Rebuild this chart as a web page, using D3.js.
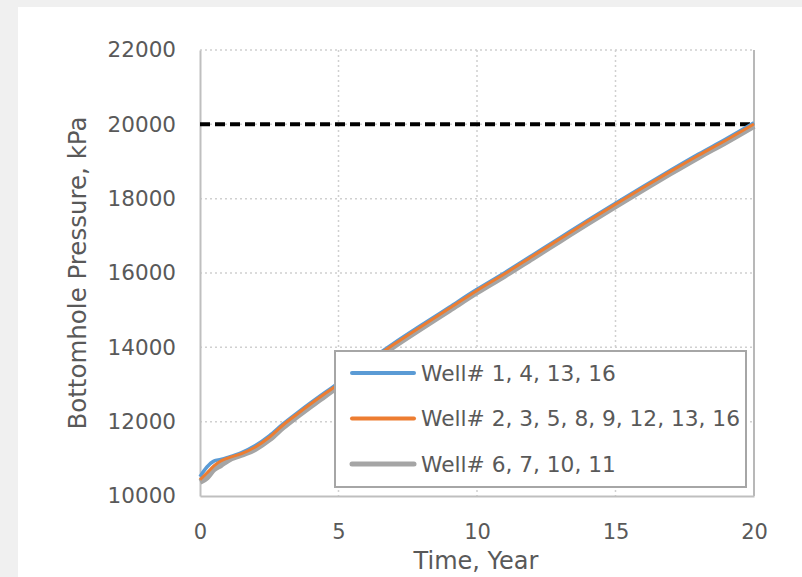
<!DOCTYPE html>
<html>
<head>
<meta charset="utf-8">
<script src="https://cdn.jsdelivr.net/npm/d3@7"></script>
<style>
  body { margin: 0; background: #f0f0f0; }
  #chart { position: absolute; left: 0; top: 0; }
</style>
</head>
<body>
<div id="chart"></div>
<script>
// time in years
var years = [0, 0.25, 0.5, 0.75, 1, 1.5, 2, 2.5, 3, 3.5, 4, 4.5, 5, 6, 7, 8, 9, 10, 11, 12, 13, 14, 15, 16, 17, 18, 19, 20];
// bottomhole pressure, kPa
var wellA = [10520, 10780, 10940, 10985, 11040, 11170, 11360, 11620, 11940, 12230, 12510, 12780, 13040, 13590, 14110, 14600, 15080, 15560, 16010, 16480, 16950, 17420, 17880, 18330, 18770, 19200, 19610, 20040];
var wellB = [10440, 10620, 10810, 10940, 11020, 11140, 11320, 11580, 11910, 12200, 12480, 12750, 13010, 13560, 14080, 14570, 15050, 15530, 15980, 16450, 16920, 17390, 17850, 18300, 18740, 19170, 19580, 20010];
var wellC = [10380, 10500, 10720, 10830, 10960, 11110, 11270, 11520, 11850, 12140, 12420, 12690, 12960, 13510, 14030, 14520, 15000, 15480, 15930, 16400, 16870, 17340, 17800, 18250, 18690, 19120, 19530, 19960];
var limitYears = [0, 20];
var limitValues = [20000, 20000];
var seriesNames = ["Well# 1, 4, 13, 16", "Well# 2, 3, 5, 8, 9, 12, 13, 16", "Well# 6, 7, 10, 11"];
var xTicks = [0, 5, 10, 15, 20];
var yTicks = [10000, 12000, 14000, 16000, 18000, 20000, 22000];

var W = 802, H = 577;
var margin = {top: 50, right: 48, bottom: 81, left: 200},
  width = W - margin.left - margin.right,
  height = H - margin.top - margin.bottom;

var svg = d3.select("#chart")
  .append("svg")
  .attr("width", W)
  .attr("height", H);

// white panel
svg.append("rect")
  .attr("x", 18).attr("y", 7)
  .attr("width", W - 18).attr("height", H - 7)
  .style("fill", "white");

var g = svg.append("g")
  .attr("transform", "translate(" + margin.left + "," + margin.top + ")");

var x = d3.scaleLinear().domain([0, 20]).range([0, width]);
var y = d3.scaleLinear().domain([10000, 22000]).range([height, 0]);

var font = "'DejaVu Sans', sans-serif";

// dotted grid
g.selectAll(".hgrid")
  .data(yTicks.slice(1))
  .enter().append("line")
  .attr("class", "hgrid")
  .attr("x1", 0).attr("x2", width)
  .attr("y1", function(d) { return y(d); })
  .attr("y2", function(d) { return y(d); })
  .style("stroke", "#d0d0d0")
  .style("stroke-width", 1.5)
  .style("stroke-dasharray", "2,3");

g.selectAll(".vgrid")
  .data(xTicks.slice(1, 4))
  .enter().append("line")
  .attr("class", "vgrid")
  .attr("y1", 0).attr("y2", height)
  .attr("x1", function(d) { return x(d); })
  .attr("x2", function(d) { return x(d); })
  .style("stroke", "#d0d0d0")
  .style("stroke-width", 1.5)
  .style("stroke-dasharray", "2,3");

// frame
g.append("line")
  .attr("x1", x(20)).attr("x2", x(20)).attr("y1", 0).attr("y2", height)
  .style("stroke", "#a0a0a0").style("stroke-width", 1.5);

var xAxis = g.append("g")
  .attr("transform", "translate(0," + height + ")")
  .call(d3.axisBottom(x).tickValues(xTicks).tickSize(0).tickPadding(28));
xAxis.select(".domain").style("stroke", "#bfbfbf").style("stroke-width", 2);
xAxis.selectAll("text")
  .style("font-family", font).style("font-size", "21px").style("fill", "#595959");

var yAxis = g.append("g")
  .call(d3.axisLeft(y).tickValues(yTicks).tickSize(0).tickPadding(24).tickFormat(d3.format("d")));
yAxis.select(".domain").style("stroke", "#bfbfbf").style("stroke-width", 2);
yAxis.selectAll("text")
  .style("font-family", font).style("font-size", "21.5px").style("fill", "#595959");

// limit line
var line = d3.line()
  .x(function(d) { return x(d[0]); })
  .y(function(d) { return y(d[1]); })
  .curve(d3.curveMonotoneX);

g.append("path")
  .datum(d3.zip(limitYears, limitValues))
  .attr("d", line)
  .style("fill", "none")
  .style("stroke", "black")
  .style("stroke-width", 4)
  .style("stroke-dasharray", "10,5");

var colors = ["#5b9bd5", "#ed7d31", "#a5a5a5"];
var widths = [3.5, 3, 6];
var series = [wellA, wellB, wellC];

[2, 0, 1].forEach(function(i) {
  g.append("path")
    .datum(d3.zip(years, series[i]))
    .attr("d", line)
    .style("fill", "none")
    .style("stroke", colors[i])
    .style("stroke-width", widths[i])
    .style("stroke-linejoin", "round");
});

// legend
var legend = svg.append("g");
legend.append("rect")
  .attr("x", 335).attr("y", 351)
  .attr("width", 411).attr("height", 136)
  .style("fill", "white")
  .style("stroke", "#a6a6a6")
  .style("stroke-width", 2);

seriesNames.forEach(function(name, i) {
  var ly = 373 + i * 45.5;
  legend.append("line")
    .attr("x1", 352).attr("x2", 414)
    .attr("y1", ly).attr("y2", ly)
    .style("stroke", colors[i])
    .style("stroke-width", i == 2 ? 5 : 4)
    .style("stroke-linecap", "round");
  legend.append("text")
    .attr("x", 421).attr("y", ly)
    .attr("dy", "0.35em")
    .style("font-family", font)
    .style("font-size", "21.7px")
    .style("fill", "#595959")
    .text(name);
});

// axis titles
svg.append("text")
  .attr("x", 476).attr("y", 569)
  .attr("text-anchor", "middle")
  .style("font-family", font)
  .style("font-size", "24px")
  .style("fill", "#595959")
  .text("Time, Year");

svg.append("text")
  .attr("transform", "translate(86,273) rotate(-90)")
  .attr("text-anchor", "middle")
  .style("font-family", font)
  .style("font-size", "24.5px")
  .style("fill", "#595959")
  .text("Bottomhole Pressure, kPa");
</script>
</body>
</html>
